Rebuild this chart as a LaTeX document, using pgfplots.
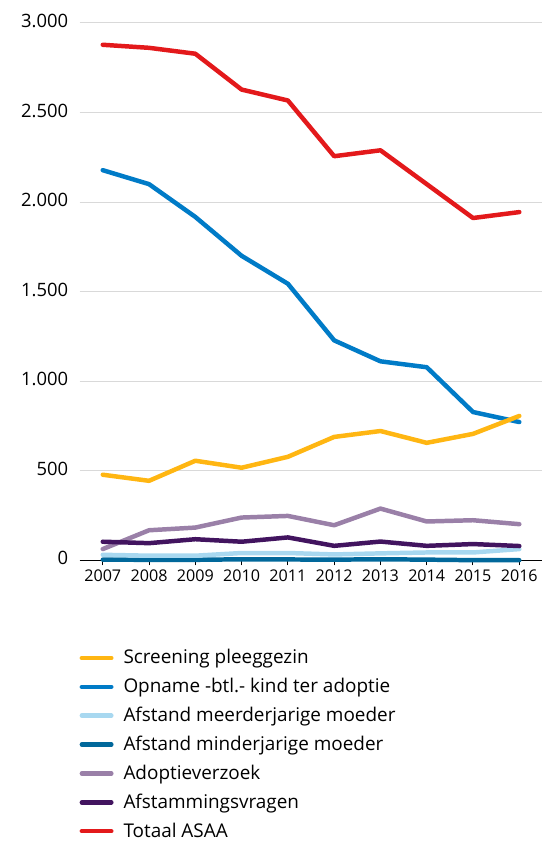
\documentclass[border=0pt]{standalone}
\usepackage{fontspec}
\setmainfont{Open Sans}
\usepackage{pgfplots}
\pgfplotsset{compat=1.18}
\definecolor{cyellow}{HTML}{FFB612}
\definecolor{cblue}{HTML}{007BC7}
\definecolor{clblue}{HTML}{A8D8F0}
\definecolor{cdblue}{HTML}{01689B}
\definecolor{clpurple}{HTML}{9A80A8}
\definecolor{cdpurple}{HTML}{42145F}
\definecolor{cred}{HTML}{E3191B}
\begin{document}
\begin{tikzpicture}
\begin{axis}[
  name=ax,
  scale only axis, width=465pt, height=563pt,
  xmin=2006.5, xmax=2016.5, ymin=0, ymax=3128,
  axis x line*=bottom, axis y line*=left,
  x axis line style={black, line width=1.5pt, -},
  y axis line style={draw=none},
  xtick={2007,...,2016}, ytick={0,500,...,3000},
  tick align=outside,
  major tick length=5pt,
  xtick style={black, line width=1pt},
  ytick style={draw=none},
  ymajorgrids, grid style={black!15, line width=1pt},
  /pgf/number format/assume math mode=true,
  x tick label style={/pgf/number format/1000 sep={}, font=\fontsize{16.2}{18}\selectfont, yshift=-1pt},
  y tick label style={/pgf/number format/1000 sep={.}, font=\fontsize{18.5}{20}\selectfont, xshift=-3pt, yshift=2pt},
  clip=false,
  every axis plot/.append style={line width=4.5pt, line join=round, line cap=round, no markers},
  legend style={at={(0,-0.1600)}, anchor=north west, draw=none, fill=none,
    font=\fontsize{19}{22}\selectfont, row sep=13.0pt, column sep=10pt, inner sep=0pt, outer sep=0pt,
    nodes={text height=14pt, text depth=2pt, inner sep=0pt}},
  legend cell align=left,
  legend image code/.code={\draw[#1, line cap=round] (2.2pt,0pt) -- (31.8pt,0pt);},
]
\addplot[cdblue, forget plot] coordinates {(2007,4)(2008,3)(2009,3)(2010,6)(2011,5)(2012,4)(2013,6)(2014,4)(2015,1)(2016,1)};
\addplot[clblue, forget plot] coordinates {(2007,31)(2008,26)(2009,26)(2010,41)(2011,41)(2012,33)(2013,39)(2014,44)(2015,44)(2016,63)};
\addplot[clpurple, forget plot] coordinates {(2007,63)(2008,168)(2009,183)(2010,239)(2011,248)(2012,196)(2013,289)(2014,217)(2015,224)(2016,202)};
\addplot[cdpurple, forget plot] coordinates {(2007,104)(2008,96)(2009,118)(2010,104)(2011,128)(2012,81)(2013,105)(2014,81)(2015,91)(2016,80)};
\addplot[cblue, forget plot] coordinates {(2007,2178)(2008,2100)(2009,1917)(2010,1700)(2011,1544)(2012,1228)(2013,1111)(2014,1078)(2015,828)(2016,772)};
\addplot[cyellow, forget plot] coordinates {(2007,478)(2008,444)(2009,556)(2010,517)(2011,578)(2012,689)(2013,722)(2014,656)(2015,706)(2016,806)};
\addplot[cred, forget plot] coordinates {(2007,2878)(2008,2861)(2009,2828)(2010,2628)(2011,2567)(2012,2256)(2013,2289)(2014,2100)(2015,1911)(2016,1944)};
\addlegendimage{cyellow}\addlegendentry{Screening pleeggezin}
\addlegendimage{cblue}\addlegendentry{Opname -btl.- kind ter adoptie}
\addlegendimage{clblue}\addlegendentry{Afstand meerderjarige moeder}
\addlegendimage{cdblue}\addlegendentry{Afstand minderjarige moeder}
\addlegendimage{clpurple}\addlegendentry{Adoptieverzoek}
\addlegendimage{cdpurple}\addlegendentry{Afstammingsvragen}
\addlegendimage{cred}\addlegendentry{Totaal ASAA}
\end{axis}
\pgfresetboundingbox
\path[use as bounding box] ([xshift=-80pt,yshift=-289pt]ax.south west) rectangle ([xshift=1pt]ax.north east);
\end{tikzpicture}
\end{document}
